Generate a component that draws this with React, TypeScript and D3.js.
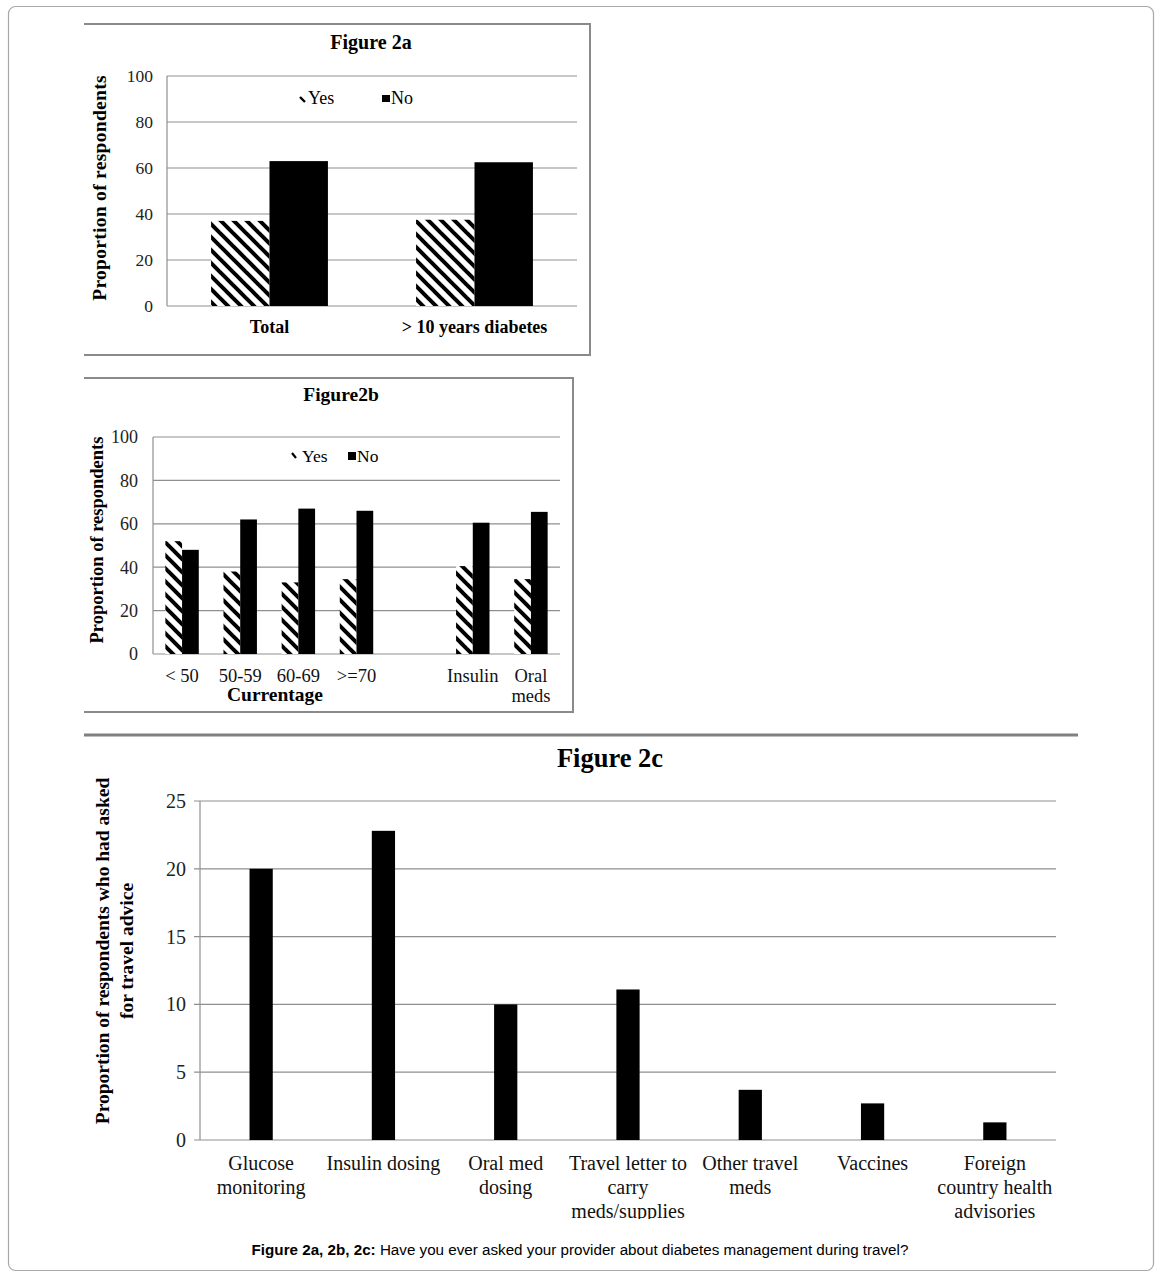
import React from "react";
import * as d3 from "d3";

// ---------- Data ----------
const seriesNames = ["Yes", "No"];

const catsA = ["Total", "> 10 years diabetes"];
const yesA = [37, 37.5];
const noA = [63, 62.5];

const catsB = ["< 50", "50-59", "60-69", ">=70", "", "Insulin", "Oral meds"];
const yesB = [52, 38, 33, 34.5, null, 40.5, 34.5];
const noB = [48, 62, 67, 66, null, 60.5, 65.5];

const catsC = [
  "Glucose monitoring",
  "Insulin dosing",
  "Oral med dosing",
  "Travel letter to carry meds/supplies",
  "Other travel meds",
  "Vaccines",
  "Foreign country health advisories",
];
const labelLinesC = [
  ["Glucose", "monitoring"],
  ["Insulin dosing"],
  ["Oral med", "dosing"],
  ["Travel letter to", "carry", "meds/supplies"],
  ["Other travel", "meds"],
  ["Vaccines"],
  ["Foreign", "country health", "advisories"],
];
const valuesC = [20, 22.8, 10, 11.1, 3.7, 2.7, 1.3];

const ticksAB = [0, 20, 40, 60, 80, 100];
const ticksC = [0, 5, 10, 15, 20, 25];

const SERIF = "'Liberation Serif', 'Times New Roman', serif";
const SANS = "'Liberation Sans', Arial, sans-serif";
const GRID = "#8f8f8f";

function GroupedPanel(props: {
  cats: string[];
  yes: (number | null)[];
  no: (number | null)[];
  left: number;
  right: number;
  top: number;
  bottom: number;
  padInner: number;
  tickFont: number;
  tickX: number;
}) {
  const { cats, yes, no, left, right, top, bottom, padInner, tickFont, tickX } = props;
  const x = d3
    .scaleBand<string>()
    .domain(cats.map((c, i) => i + ":" + c))
    .range([left, right])
    .paddingInner(padInner)
    .paddingOuter(padInner / 2);
  const y = d3.scaleLinear().domain([0, 100]).range([bottom, top]);
  const sub = d3.scaleBand<string>().domain(seriesNames).range([0, x.bandwidth()]);
  return (
    <g>
      {ticksAB.map((t) => (
        <g key={t}>
          <line x1={left} x2={right} y1={y(t)} y2={y(t)} stroke={GRID} strokeWidth={1.2} />
          <text
            x={tickX}
            y={y(t)}
            dy="0.35em"
            textAnchor="end"
            fontFamily={SERIF}
            fontSize={tickFont}
            fill="#222"
          >
            {t}
          </text>
        </g>
      ))}
      <line x1={left} x2={left} y1={y(100)} y2={y(0)} stroke={GRID} strokeWidth={1.2} />
      {cats.map((c, i) => {
        const bx = x(i + ":" + c)!;
        const yv = yes[i];
        const nv = no[i];
        return (
          <g key={i}>
            {yv != null && (
              <rect
                x={bx + sub("Yes")!}
                y={y(yv)}
                width={sub.bandwidth()}
                height={y(0) - y(yv)}
                fill="url(#hatch)"
              />
            )}
            {nv != null && (
              <rect
                x={bx + sub("No")!}
                y={y(nv)}
                width={sub.bandwidth()}
                height={y(0) - y(nv)}
                fill="#000"
              />
            )}
          </g>
        );
      })}
    </g>
  );
}

export default function App() {
  // Panel A geometry
  const aL = 167, aR = 577, aT = 76, aB = 306;
  const xA = d3
    .scaleBand<string>()
    .domain(catsA)
    .range([aL, aR])
    .paddingInner(0.43)
    .paddingOuter(0.215);

  // Panel B geometry
  const bL = 153, bR = 560, bT = 437, bB = 654;
  const xB = d3
    .scaleBand<string>()
    .domain(catsB.map((c, i) => i + ":" + c))
    .range([bL, bR])
    .paddingInner(0.425)
    .paddingOuter(0.2125);

  // Panel C geometry
  const cL = 200, cR = 1056, cT = 801, cB = 1140;
  const xC = d3.scaleBand<string>().domain(catsC).range([cL, cR]).paddingInner(0.81).paddingOuter(0.405);
  const yC = d3.scaleLinear().domain([0, 25]).range([cB, cT]);

  return (
    <svg
      width={1159}
      height={1276}
      style={{ position: "absolute", left: 0, top: 0, background: "#fff" }}
    >
      <defs>
        <pattern id="hatch" patternUnits="userSpaceOnUse" width={13} height={13}>
          <rect width={13} height={13} fill="#fff" />
          <line x1={-2} y1={-2} x2={15} y2={15} stroke="#000" strokeWidth={4} />
          <line x1={-8.5} y1={4.5} x2={2} y2={15} stroke="#000" strokeWidth={4} />
          <line x1={4.5} y1={-8.5} x2={15} y2={2} stroke="#000" strokeWidth={4} />
        </pattern>
        <clipPath id="clipC">
          <rect x={150} y={1145} width={950} height={74} />
        </clipPath>
      </defs>
      <rect x={0} y={0} width={1159} height={1276} fill="#fff" />
      {/* outer frame */}
      <rect x={8.5} y={6.5} width={1145} height={1264} rx={7} fill="none" stroke="#a8a8a8" strokeWidth={1.2} />

      {/* ---------- Figure 2a ---------- */}
      <polyline points="84,24 590,24 590,355 84,355" fill="none" stroke="#8a8a8a" strokeWidth={2} />
      <text x={371} y={49} textAnchor="middle" fontFamily={SERIF} fontWeight="bold" fontSize={20}>
        Figure 2a
      </text>
      <text
        transform="translate(106,188) rotate(-90)"
        textAnchor="middle"
        fontFamily={SERIF}
        fontWeight="bold"
        fontSize={19.5}
        letterSpacing={0.3}
      >
        Proportion of respondents
      </text>
      <GroupedPanel
        cats={catsA}
        yes={yesA}
        no={noA}
        left={aL}
        right={aR}
        top={aT}
        bottom={aB}
        padInner={0.43}
        tickFont={17.5}
        tickX={153}
      />
      {catsA.map((c) => (
        <text
          key={c}
          x={xA(c)! + xA.bandwidth() / 2}
          y={333}
          textAnchor="middle"
          fontFamily={SERIF}
          fontWeight="bold"
          fontSize={18}
        >
          {c}
        </text>
      ))}
      {/* legend A */}
      <line x1={300} y1={97} x2={305} y2={102} stroke="#000" strokeWidth={2.4} />
      <text x={308} y={104} fontFamily={SERIF} fontSize={18}>
        {seriesNames[0]}
      </text>
      <rect x={382} y={95} width={8} height={7} fill="#000" />
      <text x={391} y={104} fontFamily={SERIF} fontSize={18}>
        {seriesNames[1]}
      </text>

      {/* ---------- Figure 2b ---------- */}
      <polyline points="84,378 573,378 573,712 84,712" fill="none" stroke="#8a8a8a" strokeWidth={2} />
      <text x={341} y={401} textAnchor="middle" fontFamily={SERIF} fontWeight="bold" fontSize={19.5}>
        Figure2b
      </text>
      <text
        transform="translate(103,540) rotate(-90)"
        textAnchor="middle"
        fontFamily={SERIF}
        fontWeight="bold"
        fontSize={18.5}
      >
        Proportion of respondents
      </text>
      <GroupedPanel
        cats={catsB}
        yes={yesB}
        no={noB}
        left={bL}
        right={bR}
        top={bT}
        bottom={bB}
        padInner={0.425}
        tickFont={18}
        tickX={138}
      />
      {catsB.map((c, i) => {
        const cx = xB(i + ":" + c)! + xB.bandwidth() / 2;
        const lines = c === "Oral meds" ? ["Oral", "meds"] : [c];
        return (
          <text key={i} textAnchor="middle" fontFamily={SERIF} fontSize={18.5} fill="#111">
            {lines.map((l, j) => (
              <tspan key={j} x={cx} y={682 + j * 20}>
                {l}
              </tspan>
            ))}
          </text>
        );
      })}
      <text x={275} y={701} textAnchor="middle" fontFamily={SERIF} fontWeight="bold" fontSize={19.5}>
        Currentage
      </text>
      {/* legend B */}
      <line x1={292} y1={453} x2={296} y2={458} stroke="#000" strokeWidth={2.2} />
      <text x={302} y={462} fontFamily={SERIF} fontSize={17.5}>
        {seriesNames[0]}
      </text>
      <rect x={348} y={452} width={8} height={8} fill="#000" />
      <text x={357} y={462} fontFamily={SERIF} fontSize={17.5}>
        {seriesNames[1]}
      </text>

      {/* ---------- Figure 2c ---------- */}
      <line x1={84} x2={1078} y1={735} y2={735} stroke="#808080" strokeWidth={3} />
      <text x={610} y={767} textAnchor="middle" fontFamily={SERIF} fontWeight="bold" fontSize={26.5}>
        Figure  2c
      </text>
      <text
        transform="translate(109,951) rotate(-90)"
        textAnchor="middle"
        fontFamily={SERIF}
        fontWeight="bold"
        fontSize={19.5}
      >
        Proportion of respondents who had asked
      </text>
      <text
        transform="translate(133,951) rotate(-90)"
        textAnchor="middle"
        fontFamily={SERIF}
        fontWeight="bold"
        fontSize={19.5}
      >
        for travel advice
      </text>
      {ticksC.map((t) => (
        <g key={t}>
          <line x1={cL - 6} x2={cR} y1={yC(t)} y2={yC(t)} stroke={GRID} strokeWidth={1.2} />
          <text
            x={186}
            y={yC(t)}
            dy="0.35em"
            textAnchor="end"
            fontFamily={SERIF}
            fontSize={20}
            fill="#222"
          >
            {t}
          </text>
        </g>
      ))}
      <line x1={cL} x2={cL} y1={yC(25)} y2={yC(0)} stroke={GRID} strokeWidth={1.2} />
      {catsC.map((c, i) => (
        <rect
          key={c}
          x={xC(c)!}
          y={yC(valuesC[i])}
          width={xC.bandwidth()}
          height={yC(0) - yC(valuesC[i])}
          fill="#000"
        />
      ))}
      <g clipPath="url(#clipC)">
        {catsC.map((c, i) => {
          const cx = xC(c)! + xC.bandwidth() / 2;
          return (
            <text key={c} textAnchor="middle" fontFamily={SERIF} fontSize={20} fill="#111">
              {labelLinesC[i].map((l, j) => (
                <tspan key={j} x={cx} y={1170 + j * 24}>
                  {l}
                </tspan>
              ))}
            </text>
          );
        })}
      </g>

      {/* caption */}
      <text x={580} y={1255} textAnchor="middle" fontFamily={SANS} fontSize={15.2}>
        <tspan fontWeight="bold">Figure 2a, 2b, 2c:</tspan>
        <tspan> Have you ever asked your provider about diabetes management during travel?</tspan>
      </text>
    </svg>
  );
}
